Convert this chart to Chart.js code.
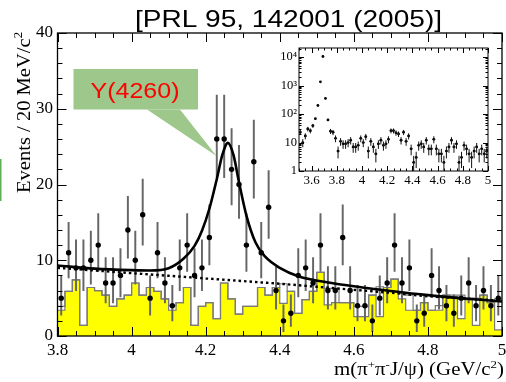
<!DOCTYPE html>
<html lang="en">
<head>
<meta charset="UTF-8" />
<title>Y(4260)</title>
<script src="https://cdn.jsdelivr.net/npm/chart.js"></script>
<style>
  body { margin: 0; background: #fff; }
  #wrap { position: relative; width: 506px; height: 382px; overflow: hidden; }
  #wrap canvas { position: absolute; left: 0; top: 0; }
</style>
</head>
<body>
<div id="wrap">
  <canvas id="mainChart" width="506" height="382"></canvas>
  <canvas id="insetChart" width="506" height="382"></canvas>
</div>
<script>
// 20 MeV bins, 3.80 - 5.00 GeV/c^2
const binLow = 3.8;
const binWidth = 0.02;

// events per bin
const counts = [5, 11, 9, 9, 10, 12, 7, 7, 8, 14,
                10, 16, 5, 11, 7, 4, 9, 12, 8, 9,
                13, 26, 26, 22, 20, 12, 23, 11, 17, 6,
                2, 3, 8, 9, 7, 12, 6, 6, 13, 6,
                4, 4, 2, 5, 7, 12, 7, 9, 2, 3,
                8, 6, 4, 3, 5, 7, 4, 6, 4, 5];

// J/psi sideband estimate (filled) and second estimate (outline)
const sideband = [3.4, 5.9, 7.4, 1.4, 6.4, 6.0, 5.4, 3.9, 4.9, 5.4,
                  7.0, 5.4, 6.4, 5.9, 4.9, 3.4, 4.4, 6.4, 1.4, 3.9,
                  4.4, 2.3, 7.0, 4.9, 2.9, 3.9, 3.9, 6.4, 5.4, 6.4,
                  4.3, 5.9, 3.0, 4.8, 5.9, 8.4, 4.1, 4.4, 4.4, 4.4,
                  2.55, 2.55, 5.4, 2.55, 6.4, 7.5, 4.9, 3.4, 3.4, 4.4,
                  3.4, 3.4, 5.4, 5.2, 2.3, 4.8, 1.4, 5.4, 4.4, 0.8];
const sidebandAlt = [3.9, 5.9, 7.4, 1.4, 6.4, 6.0, 5.4, 3.9, 4.9, 5.4,
                     7.0, 5.4, 6.4, 5.9, 4.9, 4.0, 4.4, 6.4, 1.4, 3.9,
                     4.4, 2.3, 7.0, 4.9, 2.9, 3.9, 3.9, 6.4, 5.4, 6.4,
                     6.9, 5.9, 3.0, 4.8, 5.9, 8.4, 6.3, 6.3, 4.4, 4.4,
                     3.9, 3.9, 5.4, 6.5, 6.4, 7.5, 5.6, 5.4, 3.4, 4.4,
                     3.4, 4.0, 5.4, 5.4, 5.4, 4.8, 5.0, 5.4, 4.4, 4.9];

// fit: signal + background, and background alone
const fitMass  = [3.80, 3.90, 4.00, 4.05, 4.10, 4.14, 4.17, 4.19, 4.21, 4.23, 4.245, 4.26,
                  4.275, 4.29, 4.31, 4.335, 4.36, 4.40, 4.45, 4.54, 4.61, 4.70, 4.80, 4.90, 5.00];
const fitTotal = [9.3, 8.9, 8.7, 8.65, 8.95, 10.2, 11.9, 13.9, 16.8, 20.7, 23.9, 25.5,
                  23.9, 20.3, 15.9, 12.3, 10.5, 9.0, 7.9, 7.0, 6.5, 5.95, 5.4, 4.95, 4.55];
const bkgMass = [3.8, 3.9, 4.0, 4.1, 4.2, 4.3, 4.4, 4.5, 4.6, 4.7, 4.8, 4.9, 5.0];
const bkgFit  = [9.0, 8.65, 8.3, 7.95, 7.6, 7.25, 6.9, 6.5, 6.1, 5.7, 5.25, 4.95, 4.65];

// wide range (inset): 3.50 - 3.80 bins, the rest continues with counts
const insetLow = 3.5;
const lowMassCounts = [23, 10, 17, 30, 26, 39, 69, 200, 1360, 10500, 355, 62, 25, 23, 14];

const xTicks = [3.8, 4.0, 4.2, 4.4, 4.6, 4.8, 5.0];
const yTicks = [0, 10, 20, 30, 40];
const insetXTicks = [3.6, 3.8, 4.0, 4.2, 4.4, 4.6, 4.8, 5.0];
const insetYTicks = [1, 10, 100, 1000, 10000];
const insetYLabels = ['1', '10', '10\u00b2', '10\u00b3', '10\u2074'];

const serif = '"Liberation Serif", "Times New Roman", serif';
const sans = '"Liberation Sans", Arial, sans-serif';

const binCenters = counts.map((_, i) => binLow + binWidth * (i + 0.5));
const insetCounts = lowMassCounts.concat(counts);
const insetCenters = insetCounts.map((_, i) => insetLow + binWidth * (i + 0.5));

function stepData(vals) {
  const pts = vals.map((v, i) => ({ x: binLow + binWidth * i, y: v }));
  pts.push({ x: binLow + binWidth * vals.length, y: vals[vals.length - 1] });
  return pts;
}
function pts(xs, ys) {
  return xs.map((x, i) => ({ x, y: ys[i] }));
}
function range(a, b, s) {
  const out = [];
  for (let v = a; v <= b + 1e-9; v += s) out.push(+v.toFixed(4));
  return out;
}

// ROOT style frame with ticks pointing inwards on all four sides
const frameTicks = {
  id: 'frameTicks',
  afterDatasetsDraw(chart, args, o) {
    const { ctx, chartArea: a, scales: { x, y } } = chart;
    ctx.save();
    ctx.strokeStyle = '#000';
    ctx.lineWidth = 1;
    ctx.beginPath();
    const xMark = (vals, len) => vals.forEach(v => {
      const px = Math.round(x.getPixelForValue(v)) + 0.5;
      if (px < a.left - 1 || px > a.right + 1) return;
      ctx.moveTo(px, a.bottom); ctx.lineTo(px, a.bottom - len);
      ctx.moveTo(px, a.top); ctx.lineTo(px, a.top + len);
    });
    const yMark = (vals, len) => vals.forEach(v => {
      const py = Math.round(y.getPixelForValue(v)) + 0.5;
      if (py < a.top - 1 || py > a.bottom + 1) return;
      ctx.moveTo(a.left, py); ctx.lineTo(a.left + len, py);
      ctx.moveTo(a.right, py); ctx.lineTo(a.right - len, py);
    });
    xMark(o.xMajor, o.major); xMark(o.xMinor, o.minor);
    yMark(o.yMajor, o.major); yMark(o.yMinor, o.minor);
    ctx.stroke();
    ctx.lineWidth = o.frame;
    ctx.strokeRect(a.left, a.top, a.right - a.left, a.bottom - a.top);
    ctx.restore();
  }
};

// text with superscripts, optionally stretched to a given width
function drawRich(ctx, parts, x, y, size, family, align, fitWidth) {
  const sup = size * 0.62;
  const widths = parts.map(([t, s]) => {
    ctx.font = (s ? sup : size) + 'px ' + family;
    return ctx.measureText(t).width;
  });
  const total = widths.reduce((p, c) => p + c, 0);
  const k = fitWidth ? fitWidth / total : 1;
  ctx.save();
  ctx.translate(x, y);
  ctx.scale(k, 1);
  let cx = align === 'right' ? -total : align === 'center' ? -total / 2 : 0;
  ctx.textAlign = 'left';
  ctx.textBaseline = 'alphabetic';
  parts.forEach(([t, s], i) => {
    ctx.font = (s ? sup : size) + 'px ' + family;
    ctx.fillText(t, cx, s ? -size * 0.4 : 0);
    cx += widths[i];
  });
  ctx.restore();
}

const annotations = {
  id: 'annotations',
  afterDraw(chart) {
    const ctx = chart.ctx;
    ctx.save();
    ctx.fillStyle = '#000';
    drawRich(ctx, [['[PRL 95, 142001 (2005)]', false]], 135, 27, 24, sans, 'left', 307);

    drawRich(ctx, [['m(\u03c0', false], ['+', true], ['\u03c0', false], ['-', true],
                   ['J/\u03c8) (GeV/c', false], ['2', true], [')', false]],
             504, 375, 18, serif, 'right', 170);

    ctx.save();
    ctx.translate(29.5, 32);
    ctx.rotate(-Math.PI / 2);
    drawRich(ctx, [['Events / 20 MeV/c', false], ['2', true]], 0, 0, 19, serif, 'right', 161);
    ctx.restore();

    // callout
    ctx.fillStyle = '#9dc78b';
    ctx.fillRect(73.5, 69, 124.5, 40.5);
    ctx.beginPath();
    ctx.moveTo(147, 109.5);
    ctx.lineTo(180, 109.5);
    ctx.lineTo(216.5, 156);
    ctx.closePath();
    ctx.fill();
    ctx.fillStyle = '#ff0000';
    drawRich(ctx, [['Y(4260)', false]], 90.5, 97.5, 22, sans, 'left', 89);

    ctx.fillStyle = '#5fb05a';
    ctx.fillRect(0, 159, 1.5, 42);
    ctx.restore();
  }
};

new Chart(document.getElementById('mainChart'), {
  type: 'line',
  data: {
    datasets: [
      {
        label: 'sideband',
        data: stepData(sideband),
        stepped: 'before',
        fill: 'origin',
        backgroundColor: '#ffff00',
        borderColor: '#7a7a7a',
        borderWidth: 1.2,
        pointRadius: 0,
        order: 6
      },
      {
        label: 'sideband 2',
        data: stepData(sidebandAlt),
        stepped: 'before',
        fill: false,
        borderColor: '#7a7a7a',
        borderWidth: 1.2,
        pointRadius: 0,
        order: 5
      },
      {
        type: 'bar',
        label: 'errors',
        data: binCenters.map((x, i) => {
          const n = counts[i];
          return { x, y: [n - Math.sqrt(n), n + Math.sqrt(n) + 0.7] };
        }),
        backgroundColor: '#666666',
        barThickness: 1.3,
        order: 4
      },
      {
        label: 'background',
        data: pts(bkgMass, bkgFit),
        borderColor: '#000',
        borderWidth: 2.4,
        borderDash: [2.5, 3],
        pointRadius: 0,
        cubicInterpolationMode: 'monotone',
        order: 3
      },
      {
        label: 'fit',
        data: pts(fitMass, fitTotal),
        borderColor: '#000',
        borderWidth: 2.6,
        pointRadius: 0,
        cubicInterpolationMode: 'monotone',
        order: 2
      },
      {
        label: 'data',
        data: binCenters.map((x, i) => ({ x, y: counts[i] })),
        showLine: false,
        pointRadius: 2.7,
        pointBorderWidth: 0,
        pointBackgroundColor: '#000',
        order: 1
      }
    ]
  },
  options: {
    responsive: false,
    animation: false,
    devicePixelRatio: 1,
    events: [],
    layout: { padding: { top: 33, right: 1.5, left: 0, bottom: 0 } },
    plugins: {
      legend: { display: false },
      tooltip: { enabled: false },
      frameTicks: {
        xMajor: xTicks, xMinor: range(3.8, 5.0, 0.05),
        yMajor: yTicks, yMinor: range(0, 40, 2),
        major: 9, minor: 5, frame: 1.3
      }
    },
    scales: {
      x: {
        type: 'linear', min: 3.8, max: 5.0, offset: false,
        grid: { display: false, drawTicks: false },
        border: { display: false },
        afterBuildTicks: s => { s.ticks = xTicks.map(v => ({ value: v })); },
        afterFit: s => { s.height = 46; s.paddingLeft = 0; s.paddingRight = 0; },
        ticks: {
          autoSkip: false, maxRotation: 0, padding: 4, color: '#000',
          font: { family: serif, size: 17 },
          callback: v => String(+(+v).toFixed(1))
        }
      },
      y: {
        type: 'linear', min: 0, max: 40,
        grid: { display: false, drawTicks: false },
        border: { display: false },
        afterBuildTicks: s => { s.ticks = yTicks.map(v => ({ value: v })); },
        afterFit: s => { s.width = 57.5; s.paddingTop = 0; s.paddingBottom = 0; },
        ticks: {
          autoSkip: false, padding: 4.5, color: '#000',
          font: { family: serif, size: 17 }
        }
      }
    }
  },
  plugins: [frameTicks, annotations]
});

// error bars with bin-width whiskers for the inset
const insetErrors = {
  id: 'insetErrors',
  beforeDraw(chart) {
    const { ctx, chartArea: a } = chart;
    ctx.save();
    ctx.fillStyle = '#fff';
    ctx.fillRect(a.left, a.top, a.right - a.left, a.bottom - a.top);
    ctx.restore();
  },
  afterDatasetsDraw(chart) {
    const { ctx, chartArea: a, scales: { x, y } } = chart;
    ctx.save();
    ctx.beginPath();
    ctx.rect(a.left, a.top, a.right - a.left, a.bottom - a.top);
    ctx.clip();
    ctx.strokeStyle = '#111';
    ctx.lineWidth = 1;
    ctx.beginPath();
    insetCounts.forEach((n, i) => {
      if (n > 50) return;
      const c = insetCenters[i];
      const e = Math.sqrt(n);
      const px = x.getPixelForValue(c);
      const py = y.getPixelForValue(n);
      ctx.moveTo(px, y.getPixelForValue(Math.max(n - e, 0.3)));
      ctx.lineTo(px, y.getPixelForValue(n + e));
      ctx.moveTo(x.getPixelForValue(c - binWidth / 2), py);
      ctx.lineTo(x.getPixelForValue(c + binWidth / 2), py);
    });
    ctx.stroke();
    ctx.restore();
  }
};

const logMinor = [];
for (let d = 1; d <= 10000; d *= 10) {
  for (let k = 2; k <= 9; k++) if (k * d < 20900) logMinor.push(k * d);
}

new Chart(document.getElementById('insetChart'), {
  type: 'line',
  data: {
    datasets: [{
      label: 'wide range',
      data: insetCenters.map((x, i) => ({ x, y: insetCounts[i] })),
      showLine: false,
      pointRadius: 1.4,
      pointBorderWidth: 0,
      pointBackgroundColor: '#000'
    }]
  },
  options: {
    responsive: false,
    animation: false,
    devicePixelRatio: 1,
    events: [],
    layout: { padding: { top: 48, right: 18, left: 0, bottom: 0 } },
    plugins: {
      legend: { display: false },
      tooltip: { enabled: false },
      frameTicks: {
        xMajor: insetXTicks, xMinor: range(3.5, 5.0, 0.05),
        yMajor: insetYTicks, yMinor: logMinor,
        major: 5, minor: 2.5, frame: 1
      }
    },
    scales: {
      x: {
        type: 'linear', min: 3.5, max: 5.0, offset: false,
        grid: { display: false, drawTicks: false },
        border: { display: false },
        afterBuildTicks: s => { s.ticks = insetXTicks.map(v => ({ value: v })); },
        afterFit: s => { s.height = 211; s.paddingLeft = 0; s.paddingRight = 0; },
        ticks: {
          autoSkip: false, maxRotation: 0, padding: 2, color: '#000',
          font: { family: serif, size: 13 },
          callback: v => String(+(+v).toFixed(1))
        }
      },
      y: {
        type: 'logarithmic', min: 1, max: 20900,
        grid: { display: false, drawTicks: false },
        border: { display: false },
        afterBuildTicks: s => { s.ticks = insetYTicks.map(v => ({ value: v })); },
        afterFit: s => { s.width = 299; s.paddingTop = 0; s.paddingBottom = 0; },
        ticks: {
          autoSkip: false, padding: 2, color: '#000',
          font: { family: serif, size: 12.5 },
          callback: (v, i) => insetYLabels[i]
        }
      }
    }
  },
  plugins: [frameTicks, insetErrors]
});
</script>
</body>
</html>
